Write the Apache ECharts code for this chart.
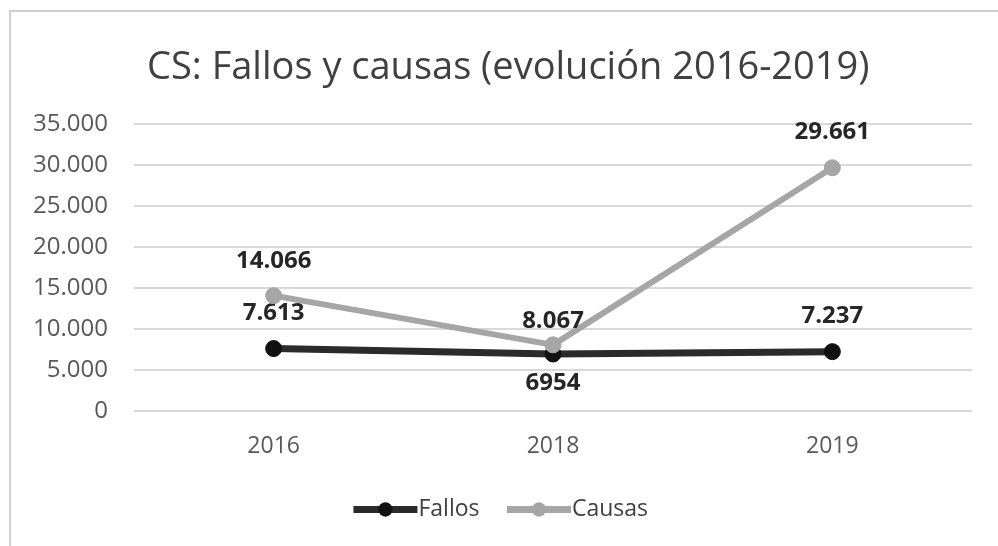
<!DOCTYPE html>
<html>
<head>
<meta charset="utf-8">
<script src="https://cdn.jsdelivr.net/npm/echarts@6/dist/echarts.min.js"></script>
<style>
  html, body { margin: 0; padding: 0; background: #fff; }
  #chart { width: 998px; height: 546px; }
</style>
</head>
<body>
<div id="chart"></div>
<script>
// data
const years = ["2016", "2018", "2019"];
const fallos = [7613, 6954, 7237];
const causas = [14066, 8067, 29661];
const fallosLabels = ["7.613", "6954", "7.237"];
const causasLabels = ["14.066", "8.067", "29.661"];

const FONT = "'Open Sans', 'Noto Sans', sans-serif";

const chart = echarts.init(document.getElementById("chart"));

const labelStyle = {
  show: true,
  fontFamily: FONT,
  fontSize: 24,
  fontWeight: "bold",
  color: "#262626",
  distance: 5,
};

// per-point offsets so the labels sit where the original has them
const fallosOffsets = [[0, -10], [0, 4], [0, -10]];
const fallosPos = ["top", "bottom", "top"];
const causasOffsets = [[0, -9], [0, 2], [0, -10]];

chart.setOption({
  backgroundColor: "#fff",
  animation: false,
  title: {
    text: "CS: Fallos y causas (evolución 2016-2019)",
    left: 142,
    top: 44,
    textStyle: {
      fontFamily: FONT,
      fontSize: 38,
      fontWeight: "normal",
      color: "#404040",
    },
  },
  graphic: [
    {
      type: "rect",
      shape: { x: 10, y: 11, width: 1100, height: 700 },
      style: { fill: null, stroke: "#d0d0d0", lineWidth: 2 },
      z: -1,
    },
  ],
  grid: {
    left: 134,
    right: 26,
    top: 124,
    bottom: 135,
  },
  legend: {
    data: ["Fallos", "Causas"],
    left: "center",
    top: 493,
    itemWidth: 64,
    itemHeight: 18,
    itemGap: 24,
    lineStyle: { width: 7 },
    textStyle: {
      fontFamily: FONT,
      fontSize: 23,
      color: "#404040",
      padding: [0, 0, 0, -4],
    },
  },
  xAxis: {
    type: "category",
    data: years,
    boundaryGap: true,
    axisLine: { show: false },
    axisTick: { show: false },
    axisLabel: {
      fontFamily: FONT,
      fontSize: 23,
      color: "#595959",
      margin: 24,
    },
  },
  yAxis: {
    type: "value",
    min: 0,
    max: 35000,
    interval: 5000,
    axisLine: { show: false },
    axisTick: { show: false },
    splitLine: { lineStyle: { color: "#d9d9d9", width: 2 } },
    axisLabel: {
      fontFamily: FONT,
      fontSize: 24,
      color: "#595959",
      margin: 26,
      formatter: (v) => v.toLocaleString("de-DE"),
    },
  },
  series: [
    {
      name: "Fallos",
      type: "line",
      symbol: "circle",
      symbolSize: 16,
      lineStyle: { color: "#2b2b2b", width: 7 },
      itemStyle: { color: "#111", borderColor: "#111" },
      z: 2,
      data: fallos.map((v, i) => ({
        value: v,
        label: {
          ...labelStyle,
          position: fallosPos[i],
          offset: fallosOffsets[i],
          formatter: fallosLabels[i],
        },
      })),
    },
    {
      name: "Causas",
      type: "line",
      symbol: "circle",
      symbolSize: 16,
      lineStyle: { color: "#a6a6a6", width: 6 },
      itemStyle: { color: "#a6a6a6", borderColor: "#a6a6a6" },
      z: 3,
      data: causas.map((v, i) => ({
        value: v,
        label: {
          ...labelStyle,
          position: "top",
          offset: causasOffsets[i],
          formatter: causasLabels[i],
        },
      })),
    },
  ],
});
</script>
</body>
</html>
